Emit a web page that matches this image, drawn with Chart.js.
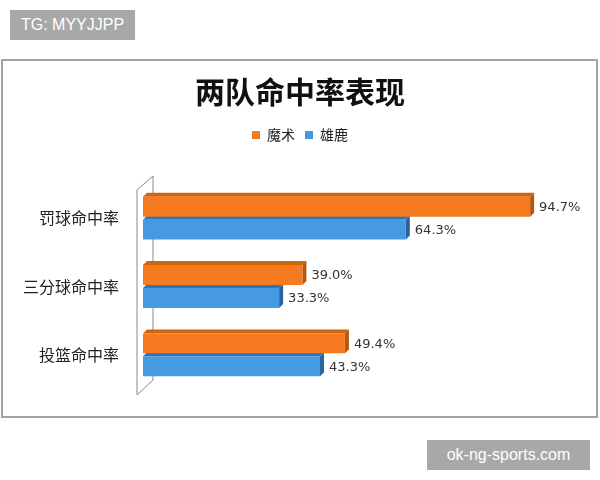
<!DOCTYPE html>
<html>
<head>
<meta charset="utf-8">
<script src="https://cdn.jsdelivr.net/npm/chart.js@4"></script>
<style>
  html, body { margin: 0; padding: 0; background: #fff; }
  #wrap { position: relative; width: 600px; height: 480px; }
  #chart { position: absolute; left: 0; top: 0; }
  .tag {
    position: absolute; background: #a8a8a8; color: #fff;
    font-family: "Liberation Sans", Arial, sans-serif; font-size: 16px;
    line-height: 30px; text-align: center;
  }
</style>
</head>
<body>
<div id="wrap">
  <canvas id="chart" width="600" height="480"></canvas>
  <div class="tag" style="left:10px; top:10px; width:125px; height:30px;">TG: MYYJJPP</div>
  <div class="tag" style="left:427px; top:440px; width:163px; height:30px;">ok-ng-sports.com</div>
</div>
<script>
const categories = ['罚球命中率', '三分球命中率', '投篮命中率'];
const magicValues = [94.7, 39.0, 49.4];
const bucksValues = [64.3, 33.3, 43.3];
const seriesNames = ['魔术', '雄鹿'];

const depth = 4;
const faceColors = [
  { front: '#f57a20', top: '#cf650f', side: '#b35810' },
  { front: '#459ae2', top: '#2f74b8', side: '#2a64a0' }
];

// frame around the whole chart
const framePlugin = {
  id: 'frame',
  beforeDraw(chart) {
    const ctx = chart.ctx;
    ctx.save();
    ctx.strokeStyle = '#a3a3a3';
    ctx.lineWidth = 2;
    ctx.strokeRect(2, 60, 595, 357);
    ctx.restore();
  }
};

// 3d looking wall on the left of the bars
const wallPlugin = {
  id: 'wall',
  beforeDatasetsDraw(chart) {
    const ctx = chart.ctx;
    const x0 = chart.scales.x.getPixelForValue(0);
    const top = chart.chartArea.top;
    const bottom = chart.chartArea.bottom;
    ctx.save();
    ctx.strokeStyle = '#8a8a8a';
    ctx.lineWidth = 1;
    ctx.beginPath();
    ctx.moveTo(x0 - 6, top + 6);
    ctx.lineTo(x0 + 10, top - 8);
    ctx.lineTo(x0 + 10, bottom - 9);
    ctx.moveTo(x0 - 6, top + 6);
    ctx.lineTo(x0 - 6, bottom + 6);
    ctx.lineTo(x0 + 10, bottom - 9);
    ctx.stroke();
    ctx.restore();
  }
};

// top and side faces of the bars, drawn before the front faces
const bevelPlugin = {
  id: 'bevel',
  beforeDatasetsDraw(chart) {
    const ctx = chart.ctx;
    ctx.save();
    chart.data.datasets.forEach((ds, i) => {
      const meta = chart.getDatasetMeta(i);
      meta.data.forEach(bar => {
        const x0 = bar.base, x1 = bar.x;
        const y0 = bar.y - bar.height / 2, y1 = bar.y + bar.height / 2;
        ctx.fillStyle = faceColors[i].top;
        ctx.beginPath();
        ctx.moveTo(x0, y0);
        ctx.lineTo(x0 + depth, y0 - depth);
        ctx.lineTo(x1 + depth, y0 - depth);
        ctx.lineTo(x1, y0);
        ctx.closePath();
        ctx.fill();
        ctx.fillStyle = faceColors[i].side;
        ctx.beginPath();
        ctx.moveTo(x1, y0);
        ctx.lineTo(x1 + depth, y0 - depth);
        ctx.lineTo(x1 + depth, y1 - depth);
        ctx.lineTo(x1, y1);
        ctx.closePath();
        ctx.fill();
      });
    });
    ctx.restore();
  }
};

// value labels at the end of each bar
const labelPlugin = {
  id: 'valueLabels',
  afterDatasetsDraw(chart) {
    const ctx = chart.ctx;
    ctx.save();
    ctx.font = '13px "DejaVu Sans", sans-serif';
    ctx.fillStyle = '#333';
    ctx.textAlign = 'left';
    ctx.textBaseline = 'middle';
    chart.data.datasets.forEach((ds, i) => {
      chart.getDatasetMeta(i).data.forEach((bar, j) => {
        ctx.fillText(ds.data[j].toFixed(1) + '%', bar.x + depth + 5, bar.y + 1);
      });
    });
    ctx.restore();
  }
};

new Chart(document.getElementById('chart'), {
  type: 'bar',
  data: {
    labels: categories,
    datasets: [
      { label: seriesNames[0], data: magicValues, backgroundColor: faceColors[0].front,
        categoryPercentage: 0.67, barPercentage: 0.87 },
      { label: seriesNames[1], data: bucksValues, backgroundColor: faceColors[1].front,
        categoryPercentage: 0.67, barPercentage: 0.87 }
    ]
  },
  options: {
    indexAxis: 'y',
    responsive: false,
    animation: false,
    layout: { padding: { top: 60, right: 0, bottom: 91, left: 0 } },
    scales: {
      x: {
        position: 'top',
        min: 0,
        max: 111.8, // leaves room on the right so the title sits centred
        grid: { display: false },
        border: { display: false },
        ticks: { display: false },
        afterFit(scale) { scale.height = 32; }
      },
      y: {
        grid: { display: false },
        border: { display: false },
        ticks: {
          color: '#222',
          padding: 16,
          font: { family: '"Noto Sans CJK SC"', size: 16 }
        },
        afterFit(scale) { scale.width = 143; }
      }
    },
    plugins: {
      title: {
        display: true,
        text: '两队命中率表现',
        color: '#111',
        font: { family: '"Noto Sans CJK SC"', size: 30, weight: '600' },
        padding: { top: 14, bottom: 8 }
      },
      legend: {
        labels: {
          color: '#222',
          boxWidth: 8,
          boxHeight: 8,
          font: { family: '"Noto Sans CJK SC"', size: 14 }
        }
      },
      tooltip: { enabled: false }
    }
  },
  plugins: [framePlugin, wallPlugin, bevelPlugin, labelPlugin]
});
</script>
</body>
</html>
